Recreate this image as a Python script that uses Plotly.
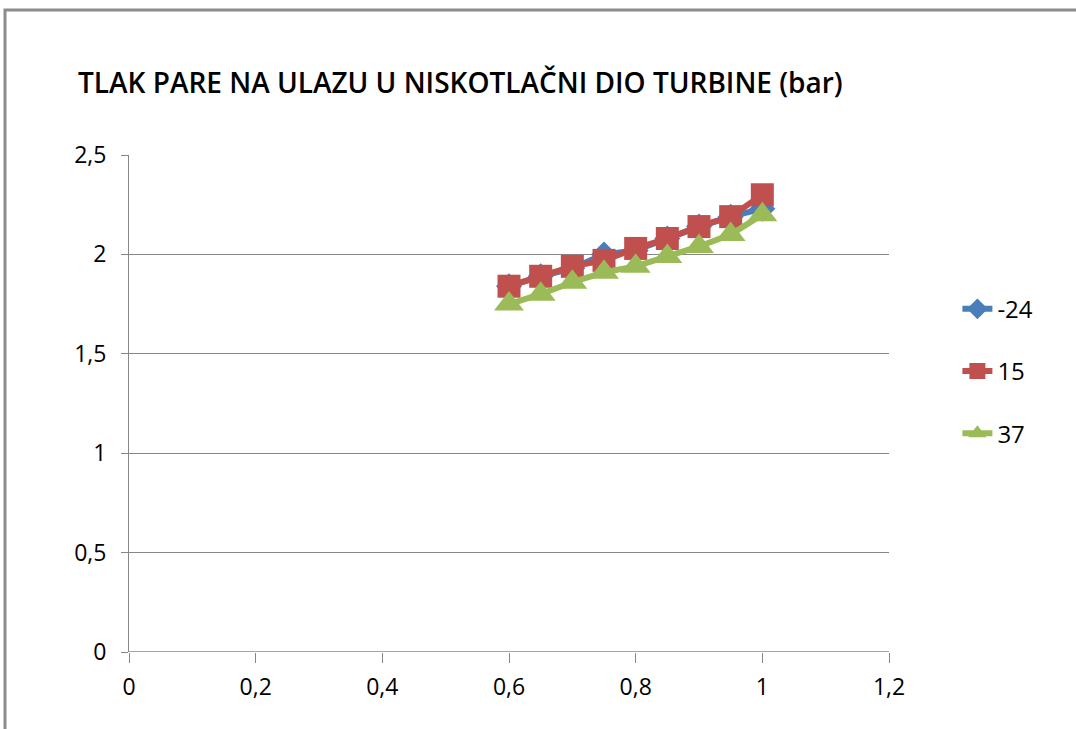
import plotly.graph_objects as go

# Steam flow ratio and inlet pressure (bar) for three temperatures
x_vals = [0.6, 0.65, 0.7, 0.75, 0.8, 0.85, 0.9, 0.95, 1.0]
p_m24 = [1.84, 1.89, 1.93, 2.00, 2.02, 2.08, 2.14, 2.19, 2.23]
p_15 = [1.84, 1.89, 1.94, 1.97, 2.03, 2.08, 2.14, 2.19, 2.30]
p_37 = [1.75, 1.80, 1.86, 1.91, 1.94, 1.99, 2.04, 2.10, 2.20]

series = [
    ("-24", p_m24, "#4A7EBB", "diamond", 20),
    ("15", p_15, "#C0504D", "square", 23),
    ("37", p_37, "#9BBB59", "triangle-up", 26),
]

x_ticks = [0, 0.2, 0.4, 0.6, 0.8, 1, 1.2]
x_tick_text = ["0", "0,2", "0,4", "0,6", "0,8", "1", "1,2"]
y_ticks = [0, 0.5, 1, 1.5, 2, 2.5]
y_tick_text = ["0", "0,5", "1", "1,5", "2", "2,5"]

fig = go.Figure()
for i, (name, vals, color, symbol, size) in enumerate(series):
    fig.add_trace(go.Scatter(
        x=x_vals, y=vals, name=name, mode="lines+markers",
        line=dict(color=color, width=6),
        marker=dict(symbol=symbol, size=size, color=color),
        legendgroup=f"g{i}",
    ))

font_family = "Open Sans, Noto Sans, sans-serif"

fig.update_layout(
    width=1076, height=729,
    margin=dict(l=129, r=187, t=155, b=77),
    paper_bgcolor="white", plot_bgcolor="white",
    font=dict(family=font_family, size=23, color="#000000"),
    title=dict(
        text="TLAK PARE NA ULAZU U NISKOTLAČNI DIO TURBINE (bar)",
        x=78 / 1076, xanchor="left", y=1 - 83 / 729, yanchor="middle",
        font=dict(family=font_family, size=28, weight=600, color="#000000"),
    ),
    xaxis=dict(
        range=[0, 1.2], tickvals=x_ticks, ticktext=x_tick_text,
        showgrid=False, zeroline=False, showline=False,
        ticks="outside", ticklen=10, tickcolor="#878787", tickwidth=1,
        ticklabelstandoff=4, fixedrange=True,
    ),
    yaxis=dict(
        range=[0, 2.5], tickvals=y_ticks, ticktext=y_tick_text,
        showgrid=True, gridcolor="#878787", gridwidth=1,
        zeroline=False, showline=True, linecolor="#878787", linewidth=1,
        ticks="outside", ticklen=7, tickcolor="#878787",
        ticklabelstandoff=10, fixedrange=True,
    ),
    legend=dict(
        x=1.09, xanchor="left", y=0.565, yanchor="middle",
        traceorder="grouped", tracegroupgap=28,
        font=dict(size=24), bgcolor="rgba(0,0,0,0)",
    ),
    shapes=[
        # x axis baseline
        dict(type="line", xref="paper", yref="y", x0=0, x1=1, y0=0, y1=0,
             line=dict(color="#878787", width=1.5)),
        # outer chart frame
        dict(type="rect", xref="paper", yref="paper",
             x0=(5 - 129) / 760, x1=(1090 - 129) / 760,
             y0=(652 - 740) / 497, y1=(652 - 10) / 497,
             line=dict(color="#8C8C8C", width=3), layer="below"),
    ],
)

fig.write_html("out.html")
